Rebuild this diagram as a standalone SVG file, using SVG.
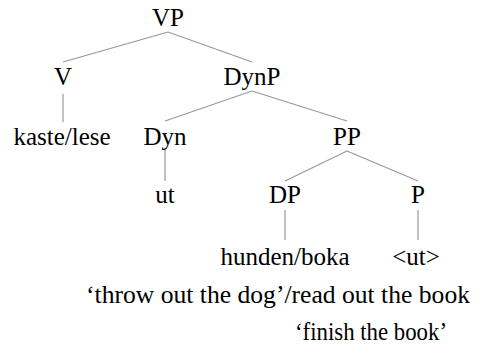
<svg xmlns="http://www.w3.org/2000/svg" width="482" height="362" viewBox="0 0 482 362">
<style>
text{font-family:"Liberation Serif","Times New Roman","DejaVu Serif",serif;font-size:25px;fill:#000;text-anchor:middle}
text.gloss{text-anchor:start}
.edge{stroke:#999;stroke-width:1.2;fill:none}
</style>
<rect width="482" height="362" fill="#fff"/>
<g id="connectors">
<line class="edge" x1="168" y1="32" x2="63" y2="62"/>
<line class="edge" x1="168" y1="32" x2="252" y2="62"/>
<line class="edge" x1="63" y1="94" x2="63" y2="122"/>
<line class="edge" x1="252" y1="91" x2="165" y2="121"/>
<line class="edge" x1="252" y1="91" x2="347" y2="121"/>
<line class="edge" x1="165" y1="150" x2="165" y2="181"/>
<line class="edge" x1="347" y1="151" x2="285" y2="181"/>
<line class="edge" x1="347" y1="151" x2="418" y2="181"/>
<line class="edge" x1="285" y1="210" x2="285" y2="240"/>
<line class="edge" x1="418" y1="210" x2="418" y2="240"/>
</g>
<g id="n-VP"><text x="168" y="26">VP</text></g>
<g id="n-V"><text x="63" y="85">V</text></g>
<g id="n-DynP"><text x="252" y="85">DynP</text></g>
<g id="n-kaste"><text x="62" y="145">kaste/lese</text></g>
<g id="n-Dyn"><text x="165" y="145">Dyn</text></g>
<g id="n-PP"><text x="347" y="145">PP</text></g>
<g id="n-ut"><text x="165" y="203">ut</text></g>
<g id="n-DP"><text x="285" y="203">DP</text></g>
<g id="n-P"><text x="418" y="203">P</text></g>
<g id="n-hunden"><text x="285" y="265">hunden/boka</text></g>
<g id="n-utP"><text x="416" y="265">&lt;ut&gt;</text></g>
<g id="gloss1"><text class="gloss" x="86" y="303" textLength="384" lengthAdjust="spacingAndGlyphs">‘throw out the dog’/read out the book</text></g>
<g id="gloss2"><text class="gloss" x="295" y="340" textLength="152" lengthAdjust="spacingAndGlyphs">‘finish the book’</text></g>
</svg>
